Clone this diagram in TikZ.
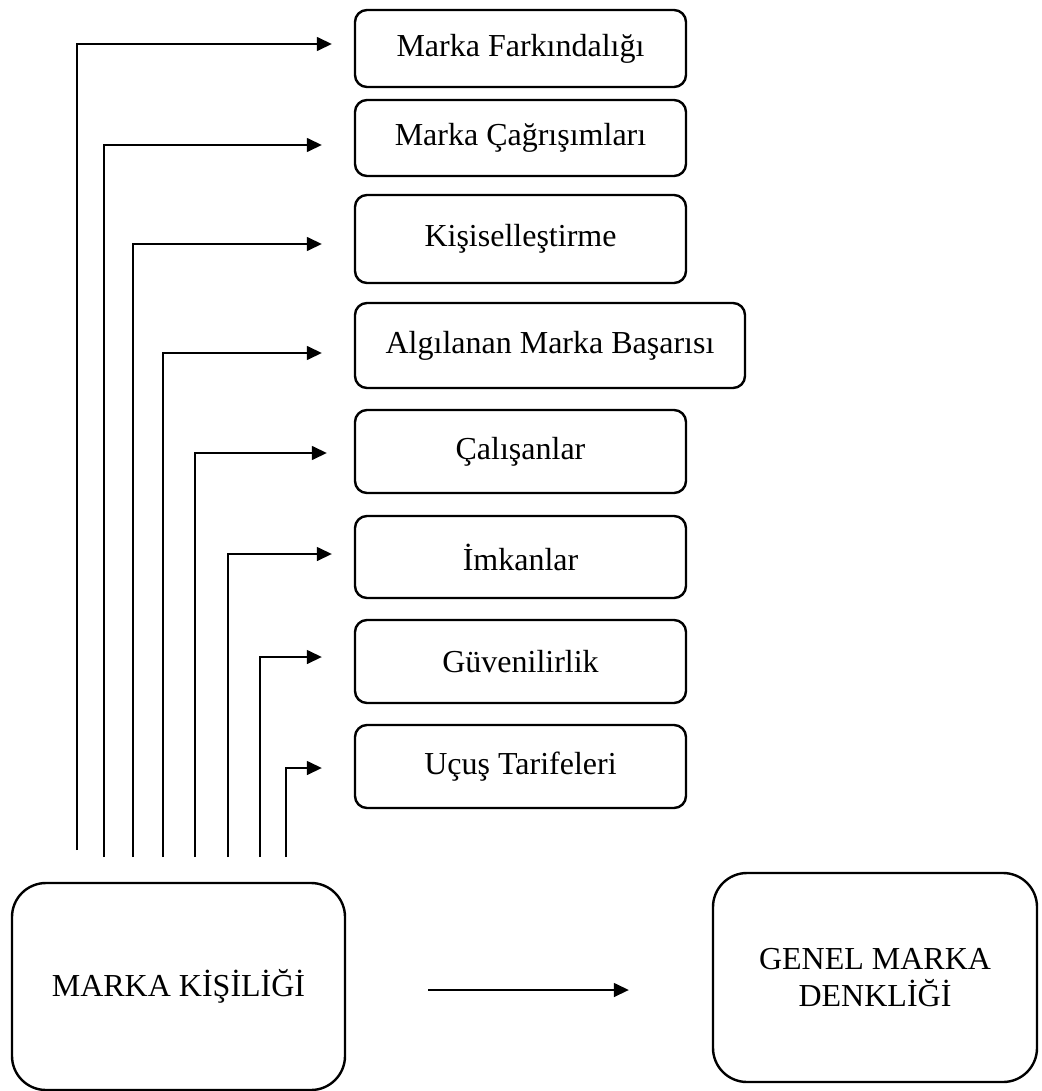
\documentclass[tikz,border=0pt]{standalone}
\usepackage{fontspec}
\setmainfont{Liberation Serif}
\usepackage{tikz}
\usetikzlibrary{arrows.meta}
\tikzset{
    kutu/.style={draw=black, line width=2.4pt, rounded corners=12pt, minimum width=331pt, inner sep=0pt, font=\fontsize{32}{37}\selectfont},
    anakutu/.style={draw=black, line width=2.4pt, rounded corners=34pt, align=center, inner sep=0pt, font=\fontsize{32}{37}\selectfont},
    ok/.style={line width=1.5pt, -{Triangle[length=15pt,width=14pt]}}
}

\begin{document}
\begin{tikzpicture}[x=1pt, y=-1pt]
    \useasboundingbox (0,0) rectangle (1041,1091);
    % sag sutun
    \node[kutu, minimum height=77pt] (b1) at (520.5,48.5) {Marka Farkındalığı};
    \node[kutu, minimum height=76pt] (b2) at (520.5,138) {Marka Çağrışımları};
    \node[kutu, minimum height=88pt] (b3) at (520.5,239) {Kişiselleştirme};
    \node[kutu, minimum width=390pt, minimum height=85pt] (b4) at (550,345.5) {Algılanan Marka Başarısı};
    \node[kutu, minimum height=83pt] (b5) at (520.5,451.5) {Çalışanlar};
    \node[kutu, minimum height=82pt] (b6) at (520.5,557) {İmkanlar};
    \node[kutu, minimum height=83pt] (b7) at (520.5,661.5) {Güvenilirlik};
    \node[kutu, minimum height=83pt] (b8) at (520.5,766.5) {Uçuş Tarifeleri};
    % alt kutular
    \node[anakutu, minimum width=333pt, minimum height=207pt] (kisilik) at (178.5,986.5) {MARKA KİŞİLİĞİ};
    \node[anakutu, minimum width=324pt, minimum height=209pt] (denklik) at (875,977.5) {GENEL MARKA\\DENKLİĞİ};
    % baglantilar
    \coordinate (s1) at (77,850);
    \foreach \i/\x in {2/104,3/133,4/163,5/195,6/228,7/260,8/286}
        \coordinate (s\i) at (\x,857);
    \foreach \i/\dx/\dy in {1/-22/4.5,2/-32/-7,3/-32/-5,4/-32/-7.5,5/-27/-1.5,6/-22/3,7/-32/4.5,8/-32/-1.5}
        \draw[ok] (s\i) |- ([xshift=\dx pt,yshift=\dy pt]b\i.west);
    \draw[ok] ([xshift=82pt,yshift=-3.5pt]kisilik.east) -- ([xshift=-83pt,yshift=-12.5pt]denklik.west);
\end{tikzpicture}
\end{document}
